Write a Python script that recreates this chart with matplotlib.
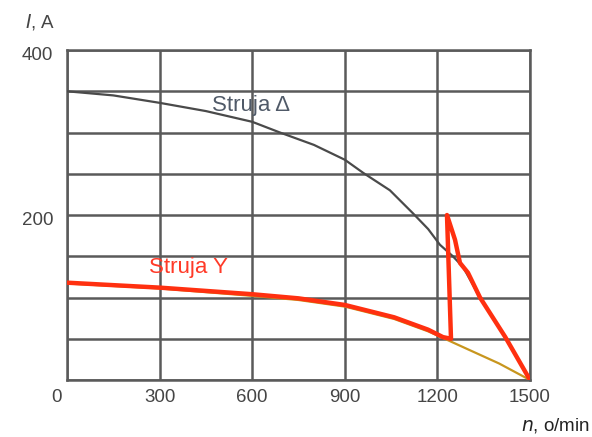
import matplotlib.pyplot as plt
import numpy as np

# Struja Delta (grey curve)
delta_n = [0, 150, 300, 450, 600, 690, 800, 900, 960, 1046, 1121, 1170, 1208, 1250, 1283, 1338]
delta_i = [350, 345, 336, 326, 313, 300, 285, 267, 251, 230, 202, 183, 164, 150, 137, 100]

# Struja Y (red curve, with the jump at ~1230 o/min)
y_n = [0, 300, 600, 750, 900, 1060, 1170, 1218, 1244, 1231, 1257, 1273, 1299, 1338, 1420, 1500]
y_i = [118, 112, 104, 99, 91, 76, 61, 52, 50, 200, 170, 142, 130, 100, 52, 0]

# Y characteristic without switching (gold curve)
gold_n = [0, 300, 600, 750, 900, 1060, 1170, 1218, 1300, 1400, 1500]
gold_i = [117, 111, 102, 97, 89, 74, 59, 51, 37, 20, 0]

x_ticks = [300, 600, 900, 1200, 1500]
y_labels = [200, 400]

fig = plt.figure(figsize=(5.92, 4.37), dpi=100)
ax = fig.add_axes([0.1132, 0.1304, 0.7821, 0.7551])

grid_col = '#5a5a5a'
ax.set_xlim(0, 1500)
ax.set_ylim(0, 400)
ax.set_xticks(np.arange(0, 1501, 300))
ax.set_yticks(np.arange(0, 401, 50))
ax.grid(True, color=grid_col, linewidth=1.8)
ax.tick_params(length=0, labelleft=False, labelbottom=False)
for s in ax.spines.values():
    s.set_color(grid_col)
    s.set_linewidth(1.8)

ax.plot(delta_n, delta_i, color='#4a4a4a', linewidth=1.6, zorder=3)
ax.plot(gold_n, gold_i, color='#c8961e', linewidth=1.6, zorder=3)
ax.plot(y_n, y_i, color='#ff3010', linewidth=3.2, zorder=4,
        solid_joinstyle='round', solid_capstyle='round')

txt_col = '#454545'
fnt = 'Liberation Sans'
fs = 13.5
for v in x_ticks:
    ax.text(v, -21, str(v), ha='center', va='center', fontsize=fs,
            color=txt_col, family=fnt, clip_on=False)
for v in y_labels:
    ax.text(-45, v - 7, str(v), ha='right', va='center', fontsize=fs,
            color=txt_col, family=fnt, clip_on=False)
ax.text(-33, -21, '0', ha='center', va='center', fontsize=fs,
        color=txt_col, family=fnt, clip_on=False)

fig.text(0.068, 0.95, '$\\mathit{I}$, A', fontsize=fs, color=txt_col,
         family=fnt, ha='center', va='center', math_fontfamily='dejavusans')
fig.text(0.997, 0.027, '$\\mathit{n}$, o/min', fontsize=fs, color='#222222',
         family=fnt, ha='right', va='center', math_fontfamily='dejavusans')

ax.text(596, 333, 'Struja Δ', fontsize=16, color='#505a68', family=fnt,
        ha='center', va='center', zorder=5)
ax.text(392, 136, 'Struja Y', fontsize=16, color='#ff3a28', family=fnt,
        ha='center', va='center', zorder=5)

fig.savefig('out.png', dpi=100)
